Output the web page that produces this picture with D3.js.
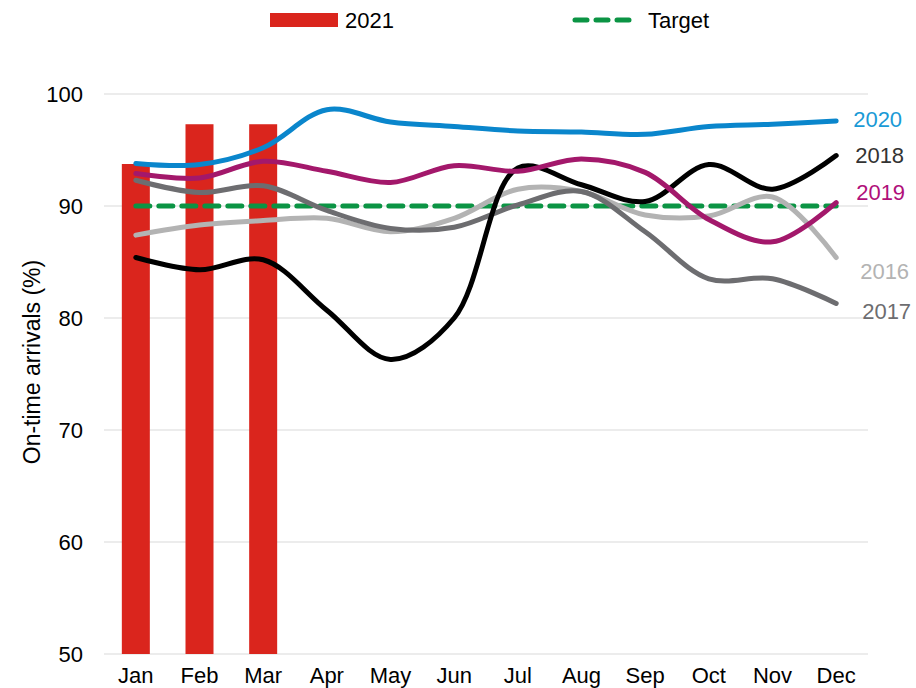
<!DOCTYPE html>
<html>
<head>
<meta charset="utf-8">
<script src="https://cdn.jsdelivr.net/npm/d3@7"></script>
<style>
  body { margin: 0; background: #fff; }
  text { font-family: "Liberation Sans", Arial, sans-serif; }
</style>
</head>
<body>
<svg id="chart"></svg>
<script>
const width = 916;
const height = 688;

const months = ["Jan", "Feb", "Mar", "Apr", "May", "Jun", "Jul", "Aug", "Sep", "Oct", "Nov", "Dec"];
const bars2021 = [93.75, 97.3, 97.3];
const target = 90;
const s2020 = [93.8, 93.7, 95.2, 98.6, 97.5, 97.1, 96.7, 96.6, 96.4, 97.1, 97.3, 97.6];
const s2019 = [92.9, 92.5, 94.0, 93.1, 92.1, 93.6, 93.1, 94.2, 93.0, 88.8, 86.8, 90.3];
const s2018 = [85.4, 84.3, 85.2, 80.7, 76.3, 80.0, 93.4, 91.9, 90.4, 93.7, 91.5, 94.5];
const s2017 = [92.3, 91.2, 91.8, 89.6, 88.0, 88.1, 90.1, 91.3, 87.7, 83.5, 83.5, 81.3];
const s2016 = [87.4, 88.3, 88.7, 88.9, 87.7, 88.9, 91.5, 91.3, 89.2, 89.1, 90.8, 85.4];
const yTicks = [50, 60, 70, 80, 90, 100];

const series = [
  { name: "2016", values: s2016, color: "#b3b3b3", labelColor: "#b3b3b3", dx: 24 },
  { name: "2017", values: s2017, color: "#6d6d70", labelColor: "#6d6d70", dx: 26 },
  { name: "2018", values: s2018, color: "#000000", labelColor: "#333333", dx: 19 },
  { name: "2019", values: s2019, color: "#a3186b", labelColor: "#b0107a", dx: 20 },
  { name: "2020", values: s2020, color: "#0a86cc", labelColor: "#1a9ad6", dx: 17 }
];
// label vertical positions (value units)
const labelY = { "2020": 97.7, "2018": 94.5, "2019": 91.2, "2016": 84.2, "2017": 80.6 };

const margin = { left: 104, right: 48, top: 94, bottom: 34 };

const svg = d3.select("#chart")
  .attr("width", width)
  .attr("height", height);

const x = d3.scaleBand()
  .domain(months)
  .range([margin.left, width - margin.right]);

const y = d3.scaleLinear()
  .domain([50, 100])
  .range([height - margin.bottom, margin.top]);

const cx = m => x(m) + x.bandwidth() / 2;

// gridlines
svg.append("g")
  .selectAll("line")
  .data(yTicks)
  .join("line")
  .attr("x1", margin.left)
  .attr("x2", width - margin.right)
  .attr("y1", d => y(d))
  .attr("y2", d => y(d))
  .attr("stroke", "#d9d9d9")
  .attr("stroke-width", 1);

// y tick labels
svg.append("g")
  .selectAll("text")
  .data(yTicks)
  .join("text")
  .attr("x", 83)
  .attr("y", d => y(d))
  .attr("dy", "0.35em")
  .attr("text-anchor", "end")
  .attr("font-size", 22)
  .attr("fill", "#000")
  .text(d => d);

// x labels
svg.append("g")
  .selectAll("text")
  .data(months)
  .join("text")
  .attr("x", d => cx(d))
  .attr("y", 683)
  .attr("text-anchor", "middle")
  .attr("font-size", 22)
  .attr("fill", "#000")
  .text(d => d);

// y axis title
svg.append("text")
  .attr("transform", "translate(40, 362) rotate(-90)")
  .attr("text-anchor", "middle")
  .attr("font-size", 23)
  .attr("fill", "#000")
  .text("On-time arrivals (%)");

// 2021 bars
const barW = 28;
svg.append("g")
  .selectAll("rect")
  .data(bars2021)
  .join("rect")
  .attr("x", (d, i) => cx(months[i]) - barW / 2)
  .attr("y", d => y(d))
  .attr("width", barW)
  .attr("height", d => y(50) - y(d))
  .attr("fill", "#da251d");

// target line
svg.append("line")
  .attr("x1", cx("Jan"))
  .attr("x2", cx("Dec"))
  .attr("y1", y(target))
  .attr("y2", y(target))
  .attr("stroke", "#0b9444")
  .attr("stroke-width", 5)
  .attr("stroke-dasharray", "14,9")
  .attr("stroke-linecap", "round");

// smoothed year lines
const line = d3.line()
  .x((d, i) => cx(months[i]))
  .y(d => y(d))
  .curve(d3.curveCatmullRom.alpha(0.5));

svg.append("g")
  .selectAll("path")
  .data(series)
  .join("path")
  .attr("d", d => line(d.values))
  .attr("fill", "none")
  .attr("stroke", d => d.color)
  .attr("stroke-width", 5)
  .attr("stroke-linecap", "round");

// end labels
svg.append("g")
  .selectAll("text")
  .data(series)
  .join("text")
  .attr("x", d => cx("Dec") + d.dx)
  .attr("y", d => y(labelY[d.name]))
  .attr("dy", "0.35em")
  .attr("font-size", 22)
  .attr("fill", d => d.labelColor)
  .text(d => d.name);

// legend
const legend = svg.append("g");
legend.append("rect")
  .attr("x", 270).attr("y", 13)
  .attr("width", 68).attr("height", 14)
  .attr("fill", "#da251d");
legend.append("text")
  .attr("x", 345).attr("y", 20)
  .attr("dy", "0.35em")
  .attr("font-size", 22)
  .text("2021");
legend.append("line")
  .attr("x1", 575).attr("x2", 634)
  .attr("y1", 20).attr("y2", 20)
  .attr("stroke", "#0b9444")
  .attr("stroke-width", 5)
  .attr("stroke-dasharray", "12,9")
  .attr("stroke-linecap", "round");
legend.append("text")
  .attr("x", 648).attr("y", 20)
  .attr("dy", "0.35em")
  .attr("font-size", 22)
  .text("Target");
</script>
</body>
</html>
